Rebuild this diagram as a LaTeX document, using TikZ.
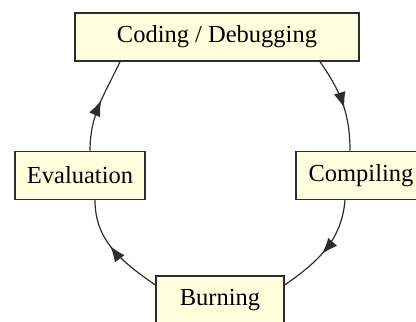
\documentclass[tikz,border=0pt]{standalone}
\usepackage{fontspec}
\setmainfont{Liberation Serif}
\usetikzlibrary{arrows.meta,decorations.markings}
\definecolor{boxfill}{RGB}{255,255,222}
\definecolor{lineink}{RGB}{45,45,45}

\begin{document}
\begin{tikzpicture}[x=1pt,y=1pt,
  stage/.style={draw=lineink,line width=1.5pt,fill=boxfill,minimum height=48pt,
    inner sep=0pt,font=\fontsize{24.5}{29}\selectfont},
  link/.style={draw=lineink,line width=1.2pt,postaction={decorate},
    decoration={markings,mark=at position 0.55 with {\arrow{Latex[length=16pt,width=12pt]}}}}]
  \useasboundingbox (0,0) rectangle (416,322);
  \node[stage,minimum width=284pt] (code) at (217,285) {Coding / Debugging};
  \node[stage,minimum width=130pt] (eval) at (80,146.5) {Evaluation};
  \node[stage,minimum width=130pt] (comp) at (361,146.5) {Compiling};
  \node[stage,minimum width=128pt] (burn) at (220,22) {Burning};
  \draw[link] ([xshift=103pt]code.south) to[out=-55,in=90] ([xshift=-11pt]comp.north);
  \draw[link] ([xshift=-16pt]comp.south) to[out=-95,in=35] ([yshift=15pt]burn.east);
  \draw[link] ([yshift=15pt]burn.west) to[out=145,in=-90] ([xshift=15pt]eval.south);
  \draw[link] ([xshift=10pt]eval.north) to[out=90,in=-115] ([xshift=-97pt]code.south);
\end{tikzpicture}
\end{document}
